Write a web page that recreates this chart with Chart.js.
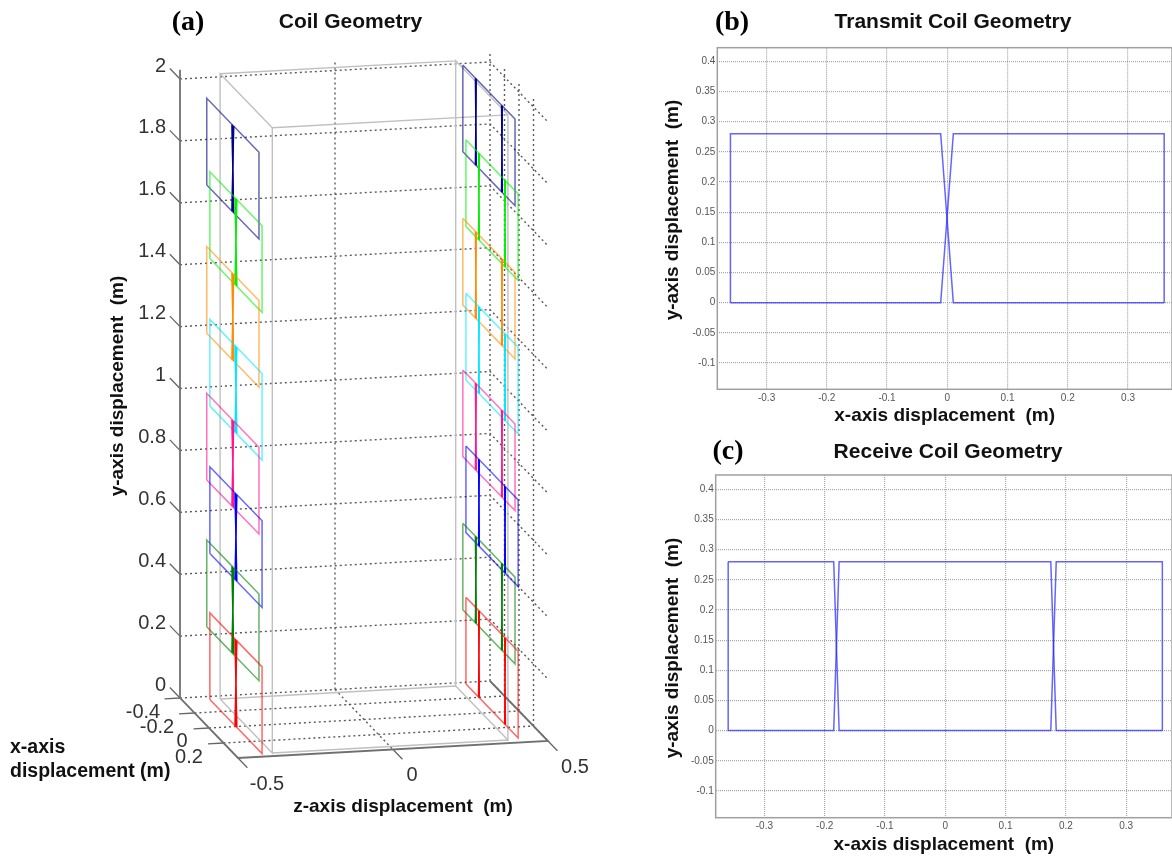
<!DOCTYPE html>
<html>
<head>
<meta charset="utf-8">
<title>Coil Geometry</title>
<script src="https://cdn.jsdelivr.net/npm/chart.js@4"></script>
<style>
  html, body { margin: 0; padding: 0; background: #fff; overflow: hidden; }
  canvas { position: absolute; filter: blur(0.4px); }
</style>
</head>
<body>
<canvas id="coil3d" width="660" height="859" style="left:0;top:0"></canvas>
<canvas id="transmit" width="512" height="430" style="left:660px;top:0"></canvas>
<canvas id="receive" width="512" height="429" style="left:660px;top:430px"></canvas>
<script>
// coil outlines, metres, walked as one closed path
const transmitX = [-0.36, -0.011, 0.01, 0.36, 0.36, 0.01, -0.011, -0.36, -0.36];
const transmitY = [0, 0, 0.28, 0.28, 0, 0, 0.28, 0.28, 0];
const receiveX = [-0.36, -0.185, -0.176, 0.175, 0.184, 0.36, 0.36, 0.184, 0.175, -0.176, -0.185, -0.36, -0.36];
const receiveY = [0.28, 0.28, 0, 0, 0.28, 0.28, 0, 0, 0.28, 0.28, 0, 0, 0.28];

// 3D stack, bottom to top
const coilColours = ['#ff0000', '#008000', '#0000ff', '#ff1493', '#00e8ff', '#ff8c00', '#00f000', '#00008b'];
const transmitBases = [0, 0.236, 0.472, 0.71, 0.948, 1.184, 1.425, 1.663];
const receiveBases = [0.005, 0.245, 0.494, 0.74, 0.987, 1.23, 1.483, 1.725];
const transmitPlanes = [-0.413, -0.423, -0.413, -0.423, -0.413, -0.423, -0.413, -0.423];
const receivePlanes = [0.413, 0.403, 0.413, 0.403, 0.413, 0.403, 0.413, 0.403];

// 3D axes
const heightTicks = [0, 0.2, 0.4, 0.6, 0.8, 1, 1.2, 1.4, 1.6, 1.8, 2];
const heightLabels = ['0', '0.2', '0.4', '0.6', '0.8', '1', '1.2', '1.4', '1.6', '1.8', '2'];
const depthTicks = [-0.4, -0.2, 0, 0.2];
const depthLabels = ['-0.4', '-0.2', '0', '0.2'];
const widthTicks = [-0.5, 0, 0.5];
const widthLabels = ['-0.5', '0', '0.5'];

// 2D axes
const planXTicks = [-0.3, -0.2, -0.1, 0, 0.1, 0.2, 0.3];
const planXLabels = ['-0.3', '-0.2', '-0.1', '0', '0.1', '0.2', '0.3'];
const planYTicks = [-0.1, -0.05, 0, 0.05, 0.1, 0.15, 0.2, 0.25, 0.3, 0.35, 0.4];
const planYLabels = ['-0.1', '-0.05', '0', '0.05', '0.1', '0.15', '0.2', '0.25', '0.3', '0.35', '0.4'];

const SANS = '"Liberation Sans", Arial, sans-serif';
const SERIF = '"Liberation Serif", "Times New Roman", serif';
const TITLE_FONT = 'bold 21px ' + SANS;
const AXIS_FONT = 'bold 19px ' + SANS;
const LETTER_FONT = 'bold 28px ' + SERIF;
const TICK_FONT = '20px ' + SANS;

// free text drawn on the canvas, used for titles, the 3D labels and the panel letters
const notesPlugin = {
  id: 'notes',
  afterDraw(chart) {
    const ctx = chart.ctx;
    (chart.config.options.notes || []).forEach(n => {
      ctx.save();
      ctx.font = n.font;
      ctx.fillStyle = n.color || '#111';
      ctx.textAlign = n.align || 'center';
      ctx.textBaseline = 'middle';
      ctx.translate(n.x, n.y);
      if (n.rotate) ctx.rotate(n.rotate);
      ctx.fillText(n.text, 0, 0);
      ctx.restore();
    });
  }
};

const framePlugin = {
  id: 'frame',
  beforeDatasetsDraw(chart) {
    const a = chart.chartArea;
    chart.ctx.save();
    chart.ctx.strokeStyle = '#a0a0a0';
    chart.ctx.lineWidth = 1.5;
    chart.ctx.strokeRect(a.left, a.top, a.right - a.left, a.bottom - a.top);
    chart.ctx.restore();
  }
};

// orthographic view: x runs towards the viewer, z to the right
function project(x, y, z) {
  return {
    x: 180 + (z + 0.5) * 310 + (x + 0.4) * 72.5,
    y: 698 - (z + 0.5) * 17 + (x + 0.4) * 75 - y * 309.5
  };
}

function polyline(points) {
  return points.map(p => project(p[0], p[1], p[2]));
}

function lineSet(segments, colour, width, dash) {
  let data = [];
  segments.forEach(s => {
    data = data.concat(polyline(s));
    data.push({ x: null, y: null });
  });
  return {
    data: data, showLine: true, spanGaps: false, pointRadius: 0,
    borderColor: colour, borderWidth: width, borderDash: dash || [], borderCapStyle: 'butt'
  };
}

function coilSets(outX, outY, bases, planes) {
  let sets = [];
  bases.forEach((base, i) => {
    const z = planes[i];
    const outline = outX.map((x, k) => [x, outY[k] + base, z]);
    const crossings = [];
    for (let k = 0; k < outX.length - 1; k++) {
      if (Math.abs(outX[k + 1] - outX[k]) < 0.03 && outY[k + 1] !== outY[k] && Math.abs(outX[k]) < 0.3) {
        crossings.push([outline[k], outline[k + 1]]);
      }
    }
    sets.push(lineSet(crossings, coilColours[i], 1.5));
    sets.push(lineSet([outline], coilColours[i] + '99', 1.5));
  });
  return sets;
}

function buildGrid() {
  const lines = [];
  heightTicks.forEach(y => {
    lines.push([[-0.4, y, -0.5], [-0.4, y, 0.5], [0.4, y, 0.5]]);
  });
  lines.push([[-0.4, 0, 0], [-0.4, 2.03, 0]]);
  lines.push([[-0.4, 0, 0], [0.4, 0, 0]]);
  depthTicks.forEach(x => {
    lines.push([[x, 0, 0.5], [x, 2.03, 0.5]]);
    lines.push([[x, 0, -0.5], [x, 0, 0.5]]);
  });
  return lines;
}

const BOX_X = 0.36, BOX_Z = 0.38, BOX_TOP = 2.02;
const boxEdges = [
  [[-BOX_X, 0, -BOX_Z], [-BOX_X, BOX_TOP, -BOX_Z], [BOX_X, BOX_TOP, -BOX_Z], [BOX_X, 0, -BOX_Z], [-BOX_X, 0, -BOX_Z]],
  [[-BOX_X, 0, BOX_Z], [-BOX_X, BOX_TOP, BOX_Z], [BOX_X, BOX_TOP, BOX_Z], [BOX_X, 0, BOX_Z], [-BOX_X, 0, BOX_Z]],
  [[-BOX_X, 0, -BOX_Z], [-BOX_X, 0, BOX_Z]],
  [[BOX_X, 0, -BOX_Z], [BOX_X, 0, BOX_Z]],
  [[-BOX_X, BOX_TOP, -BOX_Z], [-BOX_X, BOX_TOP, BOX_Z]],
  [[BOX_X, BOX_TOP, -BOX_Z], [BOX_X, BOX_TOP, BOX_Z]]
];

const axisLines = [
  [[-0.4, 2.03, -0.5], [-0.4, 0, -0.5], [0.4, 0, -0.5], [0.4, 0, 0.5], [-0.4, 0, 0.5]]
];
const tickMarks = [];
heightTicks.forEach(y => tickMarks.push([[-0.4, y, -0.5], [-0.54, y, -0.5]]));
depthTicks.forEach(x => tickMarks.push([[x, 0, -0.5], [x, 0, -0.55]]));
widthTicks.forEach(z => tickMarks.push([[0.4, 0, z], [0.53, 0, z]]));

const notes3d = [
  { text: '(a)', x: 188, y: 23, font: LETTER_FONT, color: '#000' },
  { text: 'Coil Geometry', x: 350.5, y: 22, font: TITLE_FONT },
  { text: 'y-axis displacement  (m)', x: 118, y: 386, rotate: -Math.PI / 2, font: AXIS_FONT },
  { text: 'z-axis displacement  (m)', x: 403, y: 807, font: AXIS_FONT },
  { text: 'x-axis', x: 10, y: 748, align: 'left', font: 'bold 19.5px ' + SANS },
  { text: 'displacement (m)', x: 10, y: 772, align: 'left', font: 'bold 19.5px ' + SANS }
];
heightLabels.forEach((text, i) => {
  const p = project(-0.4, heightTicks[i], -0.5);
  notes3d.push({ text, x: p.x - 14, y: p.y - 13, align: 'right', font: TICK_FONT, color: '#333' });
});
const depthSpots = [[143, 712], [157, 727], [182, 741], [189, 757]];
depthLabels.forEach((text, i) => {
  notes3d.push({ text, x: depthSpots[i][0], y: depthSpots[i][1], font: TICK_FONT, color: '#333' });
});
const widthSpots = [[267, 784], [412, 775], [575, 767]];
widthLabels.forEach((text, i) => {
  notes3d.push({ text, x: widthSpots[i][0], y: widthSpots[i][1], font: TICK_FONT, color: '#333' });
});

// first dataset ends up on top
const sets3d = []
  .concat(coilSets(transmitX, transmitY, transmitBases, transmitPlanes).reverse())
  .concat(coilSets(receiveX, receiveY, receiveBases, receivePlanes).reverse())
  .reverse()
  .concat([lineSet(axisLines, '#707070', 1.8), lineSet(tickMarks, '#666666', 1.3)])
  .concat([lineSet(boxEdges, '#c0c0c0', 1.4), lineSet(buildGrid(), '#5a5a5a', 1.4, [2, 3])]);

new Chart(document.getElementById('coil3d'), {
  type: 'scatter',
  data: { datasets: sets3d },
  plugins: [notesPlugin],
  options: {
    responsive: false, animation: false, notes: notes3d,
    layout: { padding: 0 },
    plugins: { legend: { display: false }, tooltip: { enabled: false } },
    scales: {
      x: { type: 'linear', display: false, min: 0, max: 660 },
      y: { type: 'linear', display: false, min: 0, max: 859, reverse: true }
    }
  }
});

function planChart(id, cfg) {
  const mid = Math.floor((cfg.xs.length - 1) / 2);
  const pts = cfg.xs.map((x, i) => ({ x: x, y: cfg.ys[i] }));
  const half = p => ({
    data: p, showLine: true, pointRadius: 0, borderColor: 'rgba(40,40,255,0.72)', borderWidth: 1.5
  });
  new Chart(document.getElementById(id), {
    type: 'scatter',
    data: { datasets: [half(pts.slice(0, mid + 1)), half(pts.slice(mid))] },
    plugins: [framePlugin, notesPlugin],
    options: {
      responsive: false, animation: false, notes: cfg.notes,
      layout: { padding: { top: cfg.plotTop } },
      plugins: { legend: { display: false }, tooltip: { enabled: false } },
      scales: {
        x: {
          type: 'linear', min: cfg.xMin, max: cfg.xMax,
          afterBuildTicks: s => { s.ticks = planXTicks.map(value => ({ value })); },
          afterFit: s => { s.height = cfg.xAxisHeight; },
          border: { display: false, dash: [1, 1] },
          grid: { color: '#a6a6a6', lineWidth: 1.2, drawTicks: false },
          ticks: {
            padding: 3, maxRotation: 0, autoSkip: false, color: '#555',
            font: { family: SANS, size: 10 },
            callback: (v, i) => planXLabels[i]
          },
          title: {
            display: true, text: 'x-axis displacement  (m)', color: '#111',
            font: { family: SANS, size: 19, weight: 'bold' },
            padding: { top: 0, bottom: 2.6 }
          }
        },
        y: {
          type: 'linear', min: cfg.yMin, max: cfg.yMax,
          afterBuildTicks: s => { s.ticks = planYTicks.map(value => ({ value })); },
          afterFit: s => { s.width = cfg.yAxisWidth; },
          border: { display: false, dash: [1, 1] },
          grid: { color: '#a6a6a6', lineWidth: 1.2, drawTicks: false },
          ticks: {
            padding: 2, autoSkip: false, color: '#555',
            font: { family: SANS, size: 10 },
            callback: (v, i) => planYLabels[i]
          }
        }
      }
    }
  });
}

planChart('transmit', {
  xs: transmitX, ys: transmitY,
  xMin: -0.3818, xMax: 0.373, yMin: -0.1435, yMax: 0.4226,
  yAxisWidth: 57.3, xAxisHeight: 40.7, plotTop: 47.7,
  notes: [
    { text: '(b)', x: 72, y: 23, font: LETTER_FONT, color: '#000' },
    { text: 'Transmit Coil Geometry', x: 293, y: 22.5, font: TITLE_FONT },
    { text: 'y-axis displacement  (m)', x: 13, y: 210, rotate: -Math.PI / 2, font: AXIS_FONT }
  ]
});

planChart('receive', {
  xs: receiveX, ys: receiveY,
  xMin: -0.3807, xMax: 0.376, yMin: -0.1444, yMax: 0.4237,
  yAxisWidth: 55.7, xAxisHeight: 41.3, plotTop: 45,
  notes: [
    { text: '(c)', x: 68, y: 22, font: LETTER_FONT, color: '#000' },
    { text: 'Receive Coil Geometry', x: 288, y: 22.5, font: TITLE_FONT },
    { text: 'y-axis displacement  (m)', x: 13, y: 218, rotate: -Math.PI / 2, font: AXIS_FONT }
  ]
});
</script>
</body>
</html>
